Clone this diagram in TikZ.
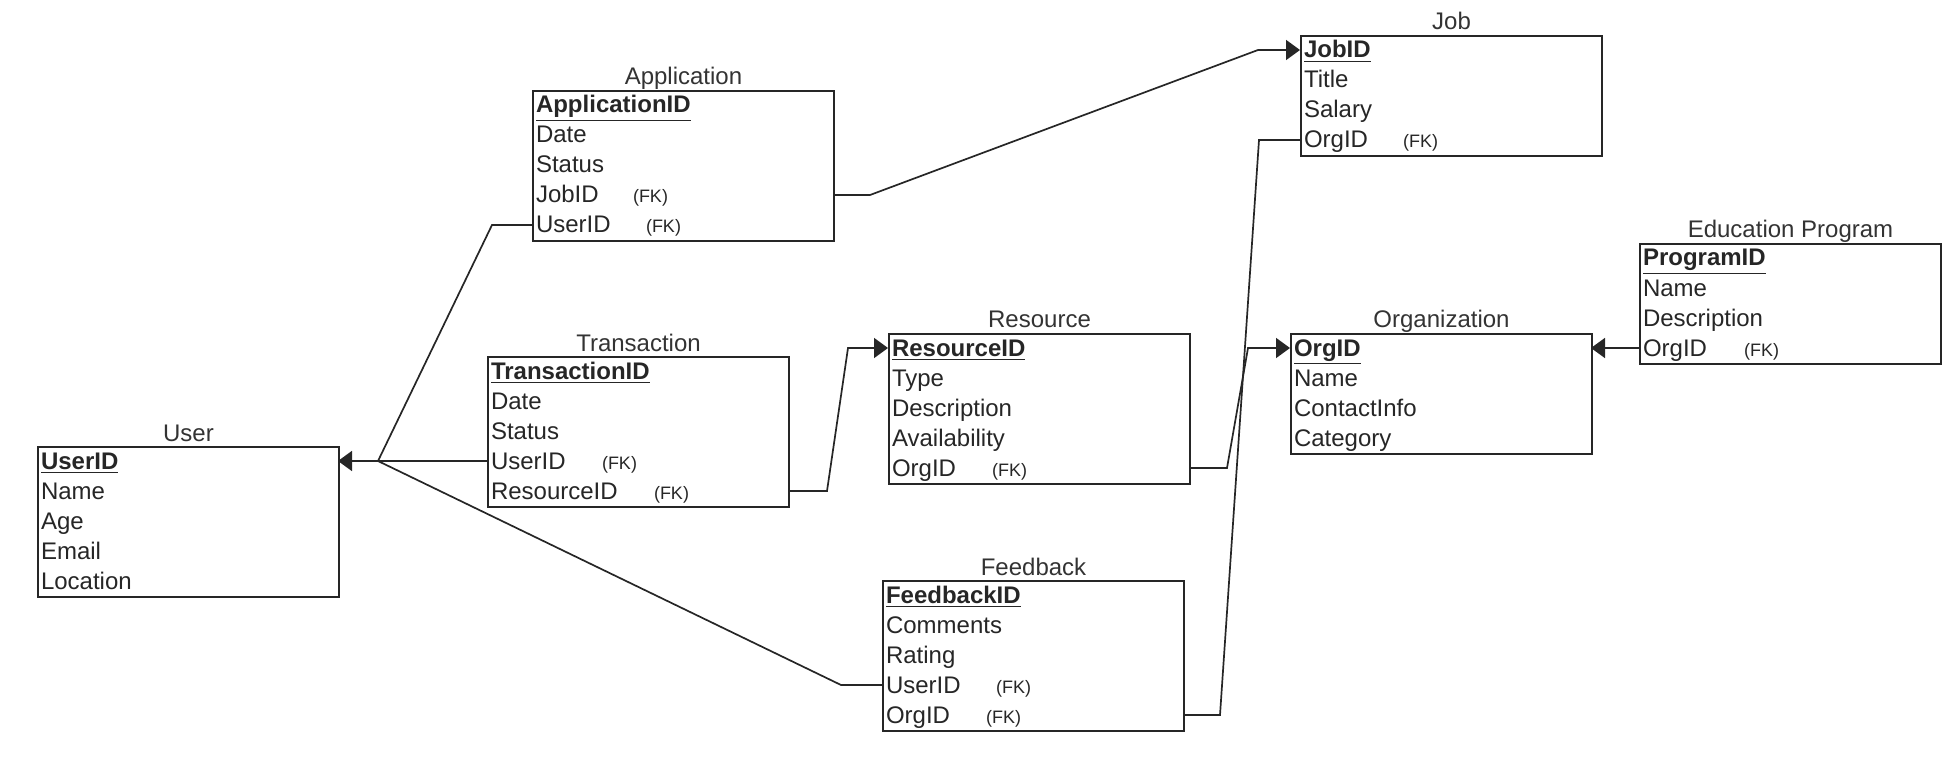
\documentclass[tikz,border=0pt]{standalone}
\usepackage{fontspec}
\setmainfont{Liberation Sans}
\usetikzlibrary{arrows.meta,positioning}
\newcommand\pkey[1]{\underline{\textbf{#1}}}
\newcommand\fkey[2]{\makebox[#1][l]{#2}{\fontsize{9}{10}\selectfont(FK)}}
\tikzset{
  ent/.style={draw=black!85, line width=1pt, anchor=north west, minimum width=150.5pt, inner sep=0pt},
  row/.style={anchor=north west, inner xsep=2pt, inner ysep=0pt, outer sep=0pt, text width=146.5pt, align=left,
    minimum height=15pt, text height=9.5pt, text depth=1.5pt, font=\fontsize{12}{14}\selectfont, text=black!85},
  ttl/.style={anchor=base, font=\fontsize{12}{14}\selectfont, text=black!80, inner sep=0pt, yshift=2.5pt},
  conn/.style={draw=black!85, line width=0.85pt},
  arr/.style={conn, -{Triangle[length=7pt,width=10pt]}},
}
\begin{document}
\begin{tikzpicture}[x=0.5pt,y=-0.5pt]
\useasboundingbox (0,0) rectangle (1959,759);

% User
\node[ent, minimum height=75pt] (user) at (37,446) {};
\node[ttl] (user-t) at (user.north) {User};
\node[row] (user-1) at (user.north west) {\pkey{UserID}};
\node[row, below=0pt of user-1] (user-2) {Name};
\node[row, below=0pt of user-2] (user-3) {Age};
\node[row, below=0pt of user-3] (user-4) {Email};
\node[row, below=0pt of user-4] (user-5) {Location};

% Application
\node[ent, minimum height=75pt] (app) at (532,90) {};
\node[ttl] (app-t) at (app.north) {Application};
\node[row] (app-1) at (app.north west) {\pkey{ApplicationID}};
\node[row, below=0pt of app-1] (app-2) {Date};
\node[row, below=0pt of app-2] (app-3) {Status};
\node[row, below=0pt of app-3] (app-4) {\fkey{48.5pt}{JobID}};
\node[row, below=0pt of app-4] (app-5) {\fkey{55pt}{UserID}};

% Transaction
\node[ent, minimum height=75pt] (trans) at (487,356) {};
\node[ttl] (trans-t) at (trans.north) {Transaction};
\node[row] (trans-1) at (trans.north west) {\pkey{TransactionID}};
\node[row, below=0pt of trans-1] (trans-2) {Date};
\node[row, below=0pt of trans-2] (trans-3) {Status};
\node[row, below=0pt of trans-3] (trans-4) {\fkey{55.5pt}{UserID}};
\node[row, below=0pt of trans-4] (trans-5) {\fkey{81.5pt}{ResourceID}};

% Resource
\node[ent, minimum height=75pt] (res) at (888,333) {};
\node[ttl] (res-t) at (res.north) {Resource};
\node[row] (res-1) at (res.north west) {\pkey{ResourceID}};
\node[row, below=0pt of res-1] (res-2) {Type};
\node[row, below=0pt of res-2] (res-3) {Description};
\node[row, below=0pt of res-3] (res-4) {Availability};
\node[row, below=0pt of res-4] (res-5) {\fkey{50pt}{OrgID}};

% Feedback
\node[ent, minimum height=75pt] (fb) at (882,580) {};
\node[ttl] (fb-t) at (fb.north) {Feedback};
\node[row] (fb-1) at (fb.north west) {\pkey{FeedbackID}};
\node[row, below=0pt of fb-1] (fb-2) {Comments};
\node[row, below=0pt of fb-2] (fb-3) {Rating};
\node[row, below=0pt of fb-3] (fb-4) {\fkey{55pt}{UserID}};
\node[row, below=0pt of fb-4] (fb-5) {\fkey{50pt}{OrgID}};

% Job
\node[ent, minimum height=60pt] (job) at (1300,35) {};
\node[ttl] (job-t) at (job.north) {Job};
\node[row] (job-1) at (job.north west) {\pkey{JobID}};
\node[row, below=0pt of job-1] (job-2) {Title};
\node[row, below=0pt of job-2] (job-3) {Salary};
\node[row, below=0pt of job-3] (job-4) {\fkey{49.5pt}{OrgID}};

% Organization
\node[ent, minimum height=60pt] (org) at (1290,333) {};
\node[ttl] (org-t) at (org.north) {Organization};
\node[row] (org-1) at (org.north west) {\pkey{OrgID}};
\node[row, below=0pt of org-1] (org-2) {Name};
\node[row, below=0pt of org-2] (org-3) {ContactInfo};
\node[row, below=0pt of org-3] (org-4) {Category};

% Education Program
\node[ent, minimum height=60pt] (edu) at (1639,243) {};
\node[ttl] (edu-t) at (edu.north) {Education Program};
\node[row] (edu-1) at (edu.north west) {\pkey{ProgramID}};
\node[row, below=0pt of edu-1] (edu-2) {Name};
\node[row, below=0pt of edu-2] (edu-3) {Description};
\node[row, below=0pt of edu-3] (edu-4) {\fkey{50.5pt}{OrgID}};

% connectors
\coordinate (j-user) at (378,461);
\draw[conn] (app-5.west) -- (492,225) -- (j-user);
\draw[arr] (trans-4.west) -- (j-user) -- (user-1.east);
\draw[conn] (fb-4.west) -- (841,685) -- (j-user);
\draw[arr] (app-4.east) -- (870,195) -- (1258,50) -- (job-1.west);
\draw[arr] (trans-5.east) -- (827,491) -- (848,348) -- (res-1.west);
\draw[arr] (res-5.east) -- (1227,468) -- (1248,348) -- (org-1.west);
\draw[conn] (job-4.west) -- (1259,140) -- (1220,715) -- (fb-5.east);
\draw[arr] (edu-4.west) -- (org-1.east);
\end{tikzpicture}
\end{document}
